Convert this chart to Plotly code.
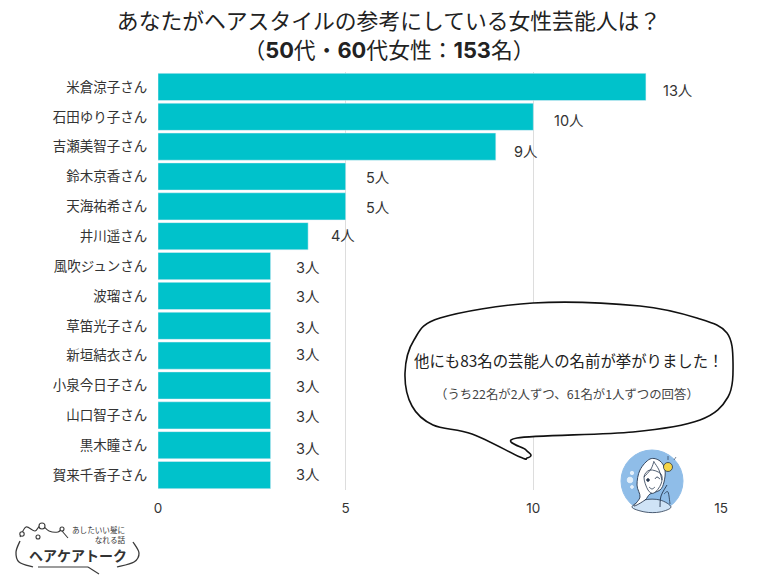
import plotly.graph_objects as go

names = ["米倉涼子さん", "石田ゆり子さん", "吉瀬美智子さん", "鈴木京香さん", "天海祐希さん", "井川遥さん", "風吹ジュンさん",
         "波瑠さん", "草笛光子さん", "新垣結衣さん", "小泉今日子さん", "山口智子さん", "黒木瞳さん", "賀来千香子さん"]
counts = [13, 10, 9, 5, 5, 4, 3, 3, 3, 3, 3, 3, 3, 3]
tick_vals = [0, 5, 10, 15]

# the value labels sit a bit unevenly in the original
label_dx = [32, 36, 30, 32, 32, 35, 37, 37, 37, 37, 37, 37, 37, 37]
label_dy = [4, 4, 5, 1, 1, -1, 1, 1, 2, -1, 1, 1, 3, -1]

BAR = "#00c2cb"
TEXT = "#333333"
FONT = "Inter, Noto Sans CJK JP, sans-serif"
JP = "Noto Sans CJK JP, sans-serif"
L, R, T, B = 158, 721, 72, 490
PAGE = 8  # browser body margin
W, H = 780 - PAGE, 585 - PAGE


def px(x, y):
    # window pixels to paper coords
    return (x - L) / (R - L), 1 - (y - T) / (B - T)


def smooth(points, close=True):
    # catmull-rom through the points, as a bezier svg path
    n = len(points)
    p = [px(*q) for q in points]
    d = f"M{p[0][0]},{p[0][1]}"
    for i in range(n if close else n - 1):
        if close:
            p0, p1, p2, p3 = p[i - 1], p[i], p[(i + 1) % n], p[(i + 2) % n]
        else:
            p0, p1, p2, p3 = p[max(i - 1, 0)], p[i], p[i + 1], p[min(i + 2, n - 1)]
        c1 = (p1[0] + (p2[0] - p0[0]) / 6, p1[1] + (p2[1] - p0[1]) / 6)
        c2 = (p2[0] - (p3[0] - p1[0]) / 6, p2[1] - (p3[1] - p1[1]) / 6)
        d += f"C{c1[0]},{c1[1]} {c2[0]},{c2[1]} {p2[0]},{p2[1]}"
    return d + ("Z" if close else "")


def path(points, color="#333333", width=1.2, fill=None, close=False):
    s = dict(type="path", xref="paper", yref="paper", path=smooth(points, close), layer="above",
             line=dict(color=color, width=width))
    if fill:
        s["fillcolor"] = fill
    return s


def circle(cx, cy, r, fill, color=None, width=1.0):
    x0, y0 = px(cx - r, cy - r)
    x1, y1 = px(cx + r, cy + r)
    return dict(type="circle", xref="paper", yref="paper", x0=x0, y0=y0, x1=x1, y1=y1, layer="above",
                fillcolor=fill, line=dict(color=color or fill, width=width))


def text(x, y, s, size, color=TEXT, anchor="center", family=JP):
    xp, yp = px(x, y)
    return dict(xref="paper", yref="paper", x=xp, y=yp, text=s, showarrow=False, xanchor=anchor, yanchor="middle",
                align=anchor if anchor != "center" else "center", font=dict(family=family, size=size, color=color))


shapes = []

# speech bubble
bubble = [(517, 438), (526, 450), (531, 455), (527, 458), (520, 457), (472, 434), (433, 425), (412, 406), (405, 373),
          (414, 340), (440, 318), (533, 303), (640, 306), (700, 319), (727, 333), (733, 362), (728, 397), (700, 420),
          (633, 432)]
shapes.append(path(bubble, color="#111111", width=1.6, fill="#ffffff", close=True))

# woman icon
INK = "#26374f"
shapes.append(circle(652, 481, 31, "#8fbde8"))
shapes.append(path([(632, 507), (644, 500), (660, 500), (671, 507), (660, 512), (645, 512)], fill="#cfe3f6", close=True,
                   color=INK, width=0.8))
hair = [(634, 506), (640, 497), (637, 485), (640, 470), (650, 459), (660, 461), (665, 470), (664, 482), (660, 490),
        (650, 494), (645, 500)]
shapes.append(path(hair, fill="#ffffff", close=True, color=INK, width=0.9))
face = [(644, 477), (650, 470), (661, 474), (661, 484), (654, 493), (648, 490)]
shapes.append(path(face, fill="#ffffff", close=True, color=INK, width=0.8))
shapes.append(path([(644, 477), (651, 469), (654, 461)], color=INK, width=0.8))
shapes.append(path([(654, 462), (659, 470), (662, 480)], color=INK, width=0.8))
shapes.append(circle(648, 480, 1.3, INK))
shapes.append(path([(655, 479), (657, 477), (660, 479)], color=INK, width=1.0))
shapes.append(path([(649, 487), (652, 489), (655, 487)], color=INK, width=0.8))
shapes.append(path([(660, 507), (661, 496), (667, 485)], color=INK, width=0.9))
shapes.append(path([(664, 494), (668, 492), (670, 504)], color=INK, width=0.8))
shapes.append(circle(668, 467, 4.5, "#f5d547", INK, 0.8))
shapes.append(path([(674, 460), (676, 457)], color=INK, width=0.7))
shapes.append(path([(668, 460), (668, 456)], color=INK, width=0.7))
shapes.append(circle(630, 480, 2.8, "#e4f0fb"))
shapes.append(circle(632, 473, 1.7, "#e4f0fb"))
shapes.append(circle(632, 487, 1.4, "#e4f0fb"))

# logo
LOGO = "#3a3a3a"
shapes.append(path([(20, 541), (16, 552), (19, 562), (33, 567)], color=LOGO, width=1.3))
shapes.append(path([(133, 542), (139, 553), (134, 562), (117, 567)], color=LOGO, width=1.3))
shapes.append(path([(20, 537), (26, 527), (35, 531), (41, 525), (49, 531), (58, 532), (62, 528)], color=LOGO, width=1.1))
shapes.append(path([(62, 531), (68, 538)], color=LOGO, width=1.1))
shapes.append(path([(38, 567), (88, 567)], color=LOGO, width=1.1))
shapes.append(path([(88, 567), (99, 574)], color=LOGO, width=1.1))
shapes.append(circle(22, 534, 2.2, "#ffffff", LOGO, 1.1))
shapes.append(circle(42, 526, 3, "#ffffff", LOGO, 1.1))
shapes.append(circle(38, 537, 2, "#ffffff", LOGO, 1.1))
shapes.append(circle(62, 529, 2, "#ffffff", LOGO, 1.1))

annotations = [
    text(569, 360, "他にも83名の芸能人の名前が挙がりました！", 15.4, "#222222"),
    text(567, 394, "（うち22名が2人ずつ、61名が1人ずつの回答）", 12.4, "#444444"),
    text(128, 534, "あしたいい髪に<br>なれる話", 7.6, "#333333", "right"),
    text(78, 555, "<b>ヘアケアトーク</b>", 14, "#333333"),
]

for name, n, dx, dy in zip(names, counts, label_dx, label_dy):
    annotations.append(dict(x=n, y=name, xref="x", yref="y", text=f"{n}人", showarrow=False, xshift=dx, yshift=-dy,
                            font=dict(family=FONT, size=14.5, color=TEXT)))

fig = go.Figure(go.Bar(x=counts, y=names, orientation="h", marker_color=BAR, width=0.91, hoverinfo="skip"))

fig.update_layout(
    width=W, height=H,
    margin=dict(l=L - PAGE, r=W - (R - PAGE), t=T - PAGE, b=H - (B - PAGE), pad=0),
    paper_bgcolor="#ffffff", plot_bgcolor="#ffffff",
    showlegend=False,
    title=dict(text="あなたがヘアスタイルの参考にしている女性芸能人は？<br>（<b>50</b>代・<b>60</b>代女性：<b>153</b>名）",
               x=0.4935, xanchor="center", y=0.963, yanchor="top",
               font=dict(family=FONT, size=21.8, color="#222222")),
    xaxis=dict(range=[0, 15], tickvals=tick_vals, showgrid=True, gridcolor="#dddddd", gridwidth=1, zeroline=False,
               ticks="outside", ticklen=6, tickcolor="rgba(0,0,0,0)", showline=False,
               tickfont=dict(family=FONT, size=13.5, color=TEXT)),
    yaxis=dict(autorange="reversed", showgrid=False, ticks="outside", ticklen=7, tickcolor="rgba(0,0,0,0)",
               showline=False, tickfont=dict(family=JP, size=13.5, color=TEXT)),
    shapes=shapes,
    annotations=annotations,
)

fig.write_html("out.html")
